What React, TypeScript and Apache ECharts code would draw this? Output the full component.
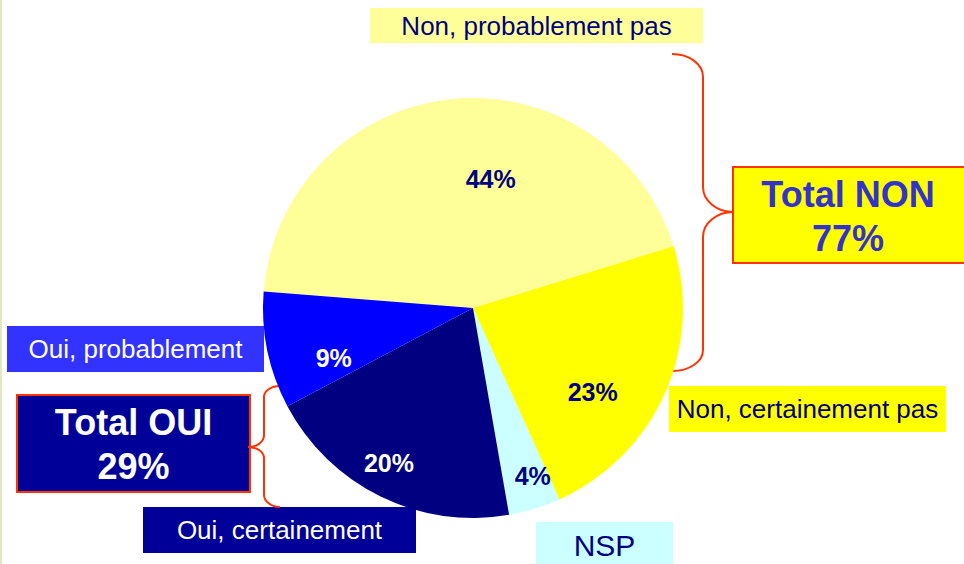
import React, { useEffect, useRef } from 'react';
import * as echarts from 'echarts';

// ---- data ----
const CATEGORIES = ['Non, probablement pas', 'Non, certainement pas', 'NSP', 'Oui, certainement', 'Oui, probablement'];
const VALUES = [44, 23, 4, 20, 9];
const TOTAL_NAMES = ['Total NON', 'Total OUI'];
const TOTAL_VALUES = [77, 29];

// ---- styles / layout ----
const FONT = '"Liberation Sans", Arial, Helvetica, sans-serif';
const SLICE_COLORS = ['#FFFF99', '#FFFF00', '#CCFFFF', '#000080', '#0000FF'];
const PCT_COLORS = ['#000080', '#000080', '#000080', '#FFFFFF', '#FFFFFF'];
const LABEL_SHIFT = [
  [29.5, -21.6],
  [21.3, 39.8],
  [28, 64.6],
  [-36.5, 57.7],
  [-33.5, 27.8],
];
const NAME_BOXES = [
  { x: 370, y: 8, w: 333, h: 35, fill: '#FFFF99', color: '#000080', size: 26, cy: 25.5 },
  { x: 669, y: 386, w: 277, h: 46, fill: '#FFFF00', color: '#000080', size: 26, cy: 409 },
  { x: 536, y: 522, w: 137, h: 50, fill: '#CCFFFF', color: '#000080', size: 30, cy: 545 },
  { x: 143, y: 507, w: 273, h: 46, fill: '#000099', color: '#FFFFFF', size: 26, cy: 530 },
  { x: 7, y: 326, w: 257, h: 46, fill: '#3333FF', color: '#FFFFFF', size: 26, cy: 349 },
];
const TOTAL_BOXES = [
  { x: 733, y: 167, w: 240, h: 96, cx: 848, fill: '#FFFF00', color: '#3333CC' },
  { x: 17, y: 395, w: 233, h: 97, cx: 133.5, fill: '#000099', color: '#FFFFFF' },
];

const BRACE_RIGHT =
  'M672,54 C689,54 703,64 703,77 L703,187 C703,201 717,212 733,212 C717,212 703,223 703,237 L703,350 C703,362 689,371 672,371';
const BRACE_LEFT =
  'M280,386 C271,386 264,391 264,397 L264,435 C264,442 257,447 248,447 C257,447 264,452 264,458 L264,495 C264,501 271,507 280,507';

echarts.graphic.registerShape('braceRight', echarts.graphic.extendPath(BRACE_RIGHT, {}));
echarts.graphic.registerShape('braceLeft', echarts.graphic.extendPath(BRACE_LEFT, {}));

export default function App() {
  const ref = useRef<HTMLDivElement>(null);

  useEffect(() => {
    if (!ref.current) return;
    const chart = echarts.init(ref.current, undefined, { renderer: 'svg' });

    const graphics: any[] = [
      { type: 'rect', shape: { x: 0, y: 0, width: 2, height: 564 }, style: { fill: '#E4E4C6' }, silent: true },
    ];

    CATEGORIES.forEach((name, i) => {
      const b = NAME_BOXES[i];
      graphics.push({ type: 'rect', shape: { x: b.x, y: b.y, width: b.w, height: b.h }, style: { fill: b.fill } });
      graphics.push({
        type: 'text',
        x: b.x + b.w / 2,
        y: b.cy,
        style: {
          text: name,
          fill: b.color,
          font: `${b.size}px ${FONT}`,
          align: 'center',
          verticalAlign: 'middle',
        },
      });
    });

    TOTAL_NAMES.forEach((name, i) => {
      const b = TOTAL_BOXES[i];
      graphics.push({
        type: 'rect',
        shape: { x: b.x, y: b.y, width: b.w, height: b.h },
        style: { fill: b.fill, stroke: '#FF3300', lineWidth: 2 },
      });
      graphics.push({
        type: 'text',
        x: b.cx,
        y: b.y + b.h / 2 + 1,
        style: {
          text: `${name}\n${TOTAL_VALUES[i]}%`,
          fill: b.color,
          font: `bold 36px ${FONT}`,
          lineHeight: 44,
          align: 'center',
          verticalAlign: 'middle',
        },
      });
    });

    graphics.push({ type: 'braceRight', x: 0, y: 0, style: { stroke: '#FF3300', lineWidth: 2, fill: 'none' } });
    graphics.push({ type: 'braceLeft', x: 0, y: 0, style: { stroke: '#FF3300', lineWidth: 2, fill: 'none' } });

    chart.setOption({
      animation: false,
      backgroundColor: '#FFFFFF',
      series: [
        {
          type: 'pie',
          center: [473, 308],
          radius: 210,
          startAngle: 175.5,
          clockwise: true,
          silent: true,
          itemStyle: { borderWidth: 0 },
          label: {
            show: true,
            position: 'inside',
            formatter: '{c}%',
            fontSize: 25,
            fontWeight: 'bold',
            fontFamily: FONT,
          },
          labelLine: { show: false },
          labelLayout: (p: any) => ({ dx: LABEL_SHIFT[p.dataIndex][0], dy: LABEL_SHIFT[p.dataIndex][1] }),
          data: CATEGORIES.map((name, i) => ({
            name,
            value: VALUES[i],
            itemStyle: { color: SLICE_COLORS[i] },
            label: { color: PCT_COLORS[i] },
          })),
        },
      ],
      graphic: { elements: graphics },
    });

    return () => chart.dispose();
  }, []);

  return (
    <div
      ref={ref}
      style={{ position: 'fixed', left: 0, top: 0, width: 964, height: 564, background: '#FFFFFF' }}
    />
  );
}
